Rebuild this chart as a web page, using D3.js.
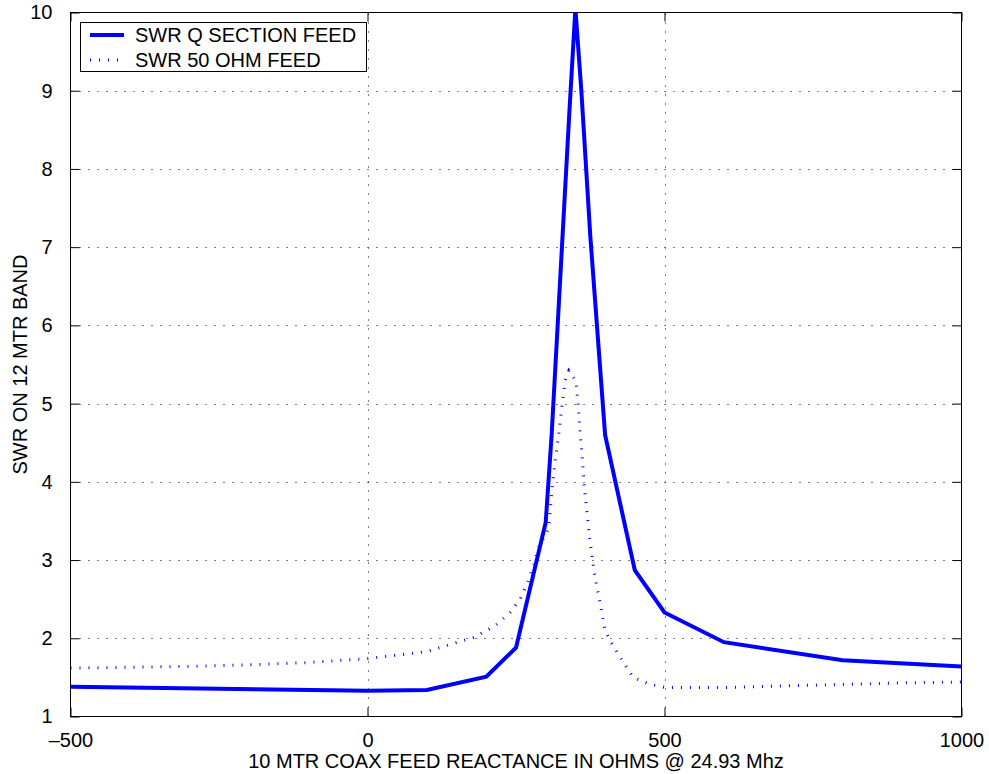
<!DOCTYPE html>
<html>
<head>
<meta charset="utf-8">
<script src="https://cdn.jsdelivr.net/npm/d3@7"></script>
<style>
    body { margin: 0; background: #fff; }
    svg { display: block; font-family: "Liberation Sans", Arial, Helvetica, sans-serif; }
</style>
</head>
<body>
<svg id="chart" width="989" height="774"></svg>
<script>
// solid: SWR with the Q section feed
const qReactance = [-500, 0, 100, 200, 250, 300, 310, 340, 350, 360, 375, 400, 450, 500, 600, 800, 1000];
const qSwr = [1.38, 1.33, 1.34, 1.51, 1.88, 3.48, 4.6, 8.75, 10.05, 9.0, 7.15, 4.6, 2.87, 2.33, 1.95, 1.72, 1.64];

// dotted: SWR with plain 50 ohm feed
const ohmReactance = [-500, -400, -300, -200, -100, 0, 100, 134, 179, 215, 240, 257, 270, 280, 288, 305, 311, 316, 322, 327, 333, 339,
    351, 355, 358, 362, 365, 370, 374, 378, 383, 389, 395, 400, 407, 414, 431, 447, 473, 488, 503, 600, 700, 800, 900, 1000];
const ohmSwr = [1.62, 1.63, 1.64, 1.66, 1.69, 1.74, 1.83, 1.91, 2.01, 2.16, 2.33, 2.5, 2.72, 2.95, 3.16, 3.4, 3.93, 4.27, 4.61, 4.95, 5.3, 5.42,
    5.29, 4.95, 4.61, 4.27, 3.93, 3.57, 3.28, 3.05, 2.78, 2.55, 2.31, 2.1, 1.99, 1.9, 1.69, 1.5, 1.42, 1.39, 1.37, 1.37, 1.39, 1.41, 1.43, 1.44];

const xTicks = [-500, 0, 500, 1000];
const yTicks = [1, 2, 3, 4, 5, 6, 7, 8, 9, 10];

const seriesNames = ["SWR Q SECTION FEED", "SWR 50 OHM FEED"];
const xTitle = "10 MTR COAX FEED REACTANCE IN OHMS @ 24.93 Mhz";
const yTitle = "SWR ON 12 MTR BAND";

const svg = d3.select("#chart");
const plotLeft = 70.5, plotRight = 961.5, plotTop = 12.5, plotBottom = 716.5;

const xscale = d3.scaleLinear().domain([-500, 1000]).range([plotLeft, plotRight]);
const yscale = d3.scaleLinear().domain([1, 10]).range([plotBottom, plotTop]);

svg.append("defs").append("clipPath")
    .attr("id", "plot-clip")
    .append("rect")
    .attr("x", plotLeft).attr("y", plotTop)
    .attr("width", plotRight - plotLeft).attr("height", plotBottom - plotTop);

// dotted grid
const grid = svg.append("g")
    .attr("stroke", "#000")
    .attr("stroke-width", 1)
    .attr("stroke-dasharray", "1,8");
grid.selectAll(".gx")
    .data(xTicks.slice(1, -1))
    .enter().append("line")
    .attr("x1", d => Math.round(xscale(d)) + 0.5).attr("x2", d => Math.round(xscale(d)) + 0.5)
    .attr("y1", plotBottom).attr("y2", plotTop);
grid.selectAll(".gy")
    .data(yTicks.slice(1, -1))
    .enter().append("line")
    .attr("y1", d => Math.round(yscale(d)) + 0.5).attr("y2", d => Math.round(yscale(d)) + 0.5)
    .attr("x1", plotLeft).attr("x2", plotRight);

// axes, ticks pointing inward on all four sides
const tickLen = 9;
const axisFont = 20;

svg.append("g")
    .attr("transform", `translate(0,${plotBottom})`)
    .call(d3.axisBottom(xscale).tickValues(xTicks).tickSize(-tickLen).tickPadding(tickLen + 7)
        .tickFormat(d => d < 0 ? "\u2013" + Math.abs(d) : d))
    .call(g => g.select(".domain").remove())
    .call(g => g.selectAll("text").attr("font-size", axisFont).attr("fill", "#000"));

svg.append("g")
    .attr("transform", `translate(0,${plotTop})`)
    .call(d3.axisTop(xscale).tickValues(xTicks).tickSize(-tickLen).tickFormat(""))
    .call(g => g.select(".domain").remove());

svg.append("g")
    .attr("transform", `translate(${plotLeft},0)`)
    .call(d3.axisLeft(yscale).tickValues(yTicks).tickSize(-tickLen).tickPadding(tickLen + 9))
    .call(g => g.select(".domain").remove())
    .call(g => g.selectAll("text").attr("font-size", axisFont).attr("fill", "#000"));

svg.append("g")
    .attr("transform", `translate(${plotRight},0)`)
    .call(d3.axisRight(yscale).tickValues(yTicks).tickSize(-tickLen).tickFormat(""))
    .call(g => g.select(".domain").remove());

svg.selectAll(".tick line").attr("stroke", "#000");
svg.selectAll("g").filter(function () { return this.getAttribute("font-family") === "sans-serif"; })
    .attr("font-family", null);

svg.append("rect")
    .attr("x", plotLeft).attr("y", plotTop)
    .attr("width", plotRight - plotLeft).attr("height", plotBottom - plotTop)
    .attr("fill", "none")
    .attr("stroke", "#000")
    .attr("stroke-width", 1);

// series
const line = d3.line()
    .x(d => xscale(d[0]))
    .y(d => yscale(d[1]));

const plot = svg.append("g").attr("clip-path", "url(#plot-clip)");

plot.append("path")
    .datum(d3.zip(ohmReactance, ohmSwr))
    .attr("fill", "none")
    .attr("stroke", "#0000ff")
    .attr("stroke-width", 3)
    .attr("stroke-dasharray", "1,8")
    .attr("d", line);

plot.append("path")
    .datum(d3.zip(qReactance, qSwr))
    .attr("fill", "none")
    .attr("stroke", "#0000ff")
    .attr("stroke-width", 4)
    .attr("stroke-linejoin", "miter")
    .attr("d", line);

// axis titles
svg.append("text")
    .attr("x", (plotLeft + plotRight) / 2)
    .attr("y", 768)
    .attr("text-anchor", "middle")
    .attr("font-size", axisFont)
    .text(xTitle);

svg.append("text")
    .attr("transform", `translate(27,${(plotTop + plotBottom) / 2}) rotate(-90)`)
    .attr("text-anchor", "middle")
    .attr("font-size", axisFont)
    .text(yTitle);

// legend
const legend = svg.append("g");
legend.append("rect")
    .attr("x", 80.5).attr("y", 22.5)
    .attr("width", 286).attr("height", 49)
    .attr("fill", "#fff")
    .attr("stroke", "#000")
    .attr("stroke-width", 1);

const legendRows = [
    { name: seriesNames[0], width: 4, dash: null, y: 35 },
    { name: seriesNames[1], width: 3, dash: "1,8", y: 60 }
];
legendRows.forEach(r => {
    legend.append("line")
        .attr("x1", 90).attr("x2", 124)
        .attr("y1", r.y).attr("y2", r.y)
        .attr("stroke", "#0000ff")
        .attr("stroke-width", r.width)
        .attr("stroke-dasharray", r.dash);
    legend.append("text")
        .attr("x", 135)
        .attr("y", r.y + 7)
        .attr("font-size", axisFont)
        .text(r.name);
});
</script>
</body>
</html>
